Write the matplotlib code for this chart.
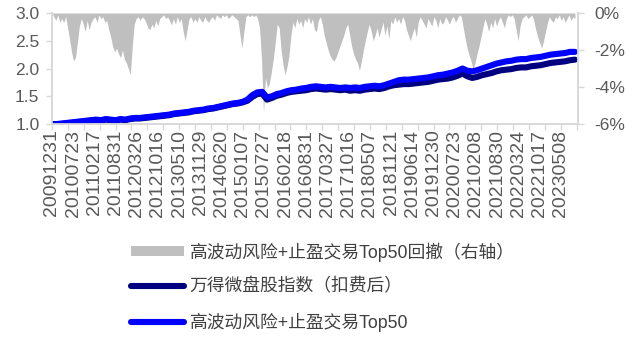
import numpy as np
import matplotlib
matplotlib.use("Agg")
import matplotlib.pyplot as plt
from matplotlib.patches import Patch
from matplotlib.lines import Line2D
from matplotlib.ticker import FuncFormatter, FixedLocator

plt.rcParams['font.family'] = ['Liberation Sans', 'Noto Sans CJK SC', 'DejaVu Sans']

# x-axis date labels (one every 140 trading days)
date_labels = ["20091231", "20100723", "20110217", "20110831", "20120326",
               "20121016", "20130510", "20131129", "20140620", "20150107",
               "20150727", "20160218", "20160831", "20170327", "20171016",
               "20180507", "20181121", "20190614", "20191230", "20200723",
               "20210208", "20210830", "20220324", "20221017", "20230508"]
label_step = 140
n_days = 3455          # trading days covered by the series

# Net value of the strategy (Top50) and of the micro-cap index
top50 = [1.00, 1.00, 1.01, 1.02, 1.03, 1.04, 1.05, 1.06, 1.07, 1.08,
         1.07, 1.09, 1.08, 1.07, 1.09, 1.08, 1.10, 1.11, 1.11, 1.12,
         1.13, 1.14, 1.15, 1.16, 1.17, 1.19, 1.20, 1.21, 1.22, 1.24,
         1.25, 1.26, 1.28, 1.29, 1.31, 1.33, 1.35, 1.37, 1.38, 1.40,
         1.44, 1.52, 1.57, 1.58, 1.48, 1.50, 1.54, 1.56, 1.59, 1.61,
         1.62, 1.64, 1.65, 1.67, 1.68, 1.67, 1.66, 1.67, 1.66, 1.65,
         1.66, 1.65, 1.66, 1.65, 1.67, 1.68, 1.69, 1.68, 1.70, 1.73,
         1.76, 1.79, 1.80, 1.80, 1.81, 1.82, 1.83, 1.84, 1.86, 1.88,
         1.89, 1.91, 1.93, 1.96, 2.00, 1.96, 1.95, 1.97, 2.00, 2.03,
         2.06, 2.09, 2.11, 2.13, 2.14, 2.16, 2.17, 2.17, 2.19, 2.20,
         2.21, 2.23, 2.25, 2.26, 2.27, 2.28, 2.30, 2.30]

microcap = [1.00, 1.00, 1.00, 1.01, 1.02, 1.03, 1.04, 1.05, 1.06, 1.07,
            1.06, 1.08, 1.07, 1.06, 1.08, 1.07, 1.09, 1.10, 1.10, 1.11,
            1.12, 1.13, 1.14, 1.15, 1.16, 1.18, 1.19, 1.20, 1.21, 1.23,
            1.24, 1.25, 1.27, 1.28, 1.30, 1.32, 1.34, 1.36, 1.37, 1.39,
            1.42, 1.49, 1.54, 1.55, 1.44, 1.47, 1.51, 1.53, 1.56, 1.58,
            1.59, 1.60, 1.61, 1.63, 1.64, 1.63, 1.62, 1.63, 1.62, 1.61,
            1.62, 1.60, 1.61, 1.60, 1.62, 1.63, 1.64, 1.63, 1.65, 1.68,
            1.70, 1.71, 1.72, 1.72, 1.73, 1.74, 1.75, 1.76, 1.78, 1.80,
            1.81, 1.82, 1.84, 1.87, 1.91, 1.86, 1.83, 1.85, 1.88, 1.90,
            1.92, 1.95, 1.97, 1.98, 1.99, 2.01, 2.02, 2.02, 2.04, 2.05,
            2.06, 2.08, 2.10, 2.11, 2.12, 2.13, 2.15, 2.16]

# Drawdown of the strategy, in percent (right axis)
drawdown = [0, -0.2, -0.4, -0.1, -0.5, -0.3, -0.5, -0.2, -0.8, -1.4,
            -2.1, -2.6, -2.4, -1.6, -0.7, -0.3, -0.6, -1.0, -0.4, -0.9,
            -0.5, -0.3, -0.2, -0.5, -0.1, -0.3, -0.2, -0.5, -0.4, -0.9,
            -1.3, -1.8, -2.1, -1.9, -2.2, -2.4, -2.0, -2.5, -2.7, -3.0,
            -3.35, -1.8, -0.6, -0.3, -0.2, -0.4, -0.2, -0.3, -0.5, -0.8,
            -0.9, -0.6, -0.8, -0.4, -0.7, -0.3, -0.2, -0.1, -0.3, -0.2,
            -0.4, -0.65, -0.3, -0.6, -0.2, -0.5, -0.3, -1.0, -1.5, -0.9,
            -0.3, -0.2, -0.5, -0.3, -0.5, -0.2, -0.4, -0.5, -0.2, -0.4,
            -0.5, -0.3, -0.2, -0.4, -0.1, -0.2, -0.3, -0.1, -0.2, -0.1,
            -0.3, -0.2, -0.1, -0.2, -0.3, -0.4, -1.2, -1.9, -1.0, -0.2,
            -0.1, -0.2, -0.1, -0.2, -0.1, -0.3, -0.8, -2.5, -5.4, -3.5,
            -4.05, -3.8, -3.2, -2.5, -1.6, -0.6, -0.8, -2.0, -2.8, -3.35,
            -2.9, -2.3, -1.2, -0.5, -0.8, -0.3, -0.6, -0.4, -0.8, -0.3,
            -0.5, -0.2, -0.6, -0.3, -0.9, -1.0, -0.4, -0.2, -0.6, -1.2,
            -1.6, -2.0, -2.3, -2.5, -2.6, -2.4, -2.1, -1.8, -1.5, -1.2,
            -0.8, -0.6, -1.2, -1.8, -2.2, -2.5, -2.7, -3.1, -2.6, -2.0,
            -1.5, -1.0, -0.6, -1.0, -1.5, -1.2, -0.8, -1.3, -0.9, -0.5,
            -1.2, -0.7, -1.4, -0.4, -0.6, -0.2, -0.5, -0.3, -0.6, -0.2,
            -0.4, -0.9, -1.2, -1.5, -1.1, -0.8, -1.3, -0.5, -0.2, -0.4,
            -0.6, -0.8, -0.3, -0.5, -0.7, -0.2, -0.4, -0.8, -0.3, -0.6,
            -0.5, -0.2, -0.4, -0.6, -0.3, -0.2, -0.5, -0.3, -0.1, -0.2,
            -0.8, -1.4, -1.9, -2.3, -2.6, -3.0, -2.7, -2.2, -1.8, -1.3,
            -0.8, -0.3, -0.6, -1.0, -0.5, -0.8, -0.3, -0.7, -0.4, -0.2,
            -0.5, -0.8, -0.3, -0.1, -0.2, -0.1, -0.3, -0.9, -1.5, -0.7,
            -0.3, -0.2, -0.1, -0.3, -0.2, -0.1, -0.4, -0.9, -1.3, -1.6,
            -1.9, -1.5, -1.0, -0.5, -0.2, -0.4, -0.5, -0.2, -0.3, -0.1,
            -0.4, -0.2, -0.5, -0.3, -0.1, -0.4, -0.2, -0.3]

names = ["高波动风险+止盈交易Top50回撤（右轴）",
         "万得微盘股指数（扣费后）",
         "高波动风险+止盈交易Top50"]

GREY = "#BFBFBF"
NAVY = "#000080"
BLUE = "#0000FF"
AXIS = "#D9D9D9"
TXT = "#595959"
LW = 4.4

x_line = np.linspace(0, n_days - 1, len(top50))
x_dd = np.linspace(0, n_days - 1, len(drawdown))

fig = plt.figure(figsize=(6.26, 3.38), dpi=100)
ax = fig.add_axes([0.083, 0.633, 0.84, 0.3285])
ax2 = ax.twinx()

# drawdown area on the secondary axis, behind the lines
ax2.fill_between(x_dd, np.array(drawdown) / 100.0, 0, color=GREY, lw=0)
ax2.set_ylim(-0.06, 0)
ax2.set_yticks([-0.06, -0.04, -0.02, 0])
ax2.yaxis.set_major_formatter(FuncFormatter(lambda v, p: f"{v*100:.0f}%"))

ax.plot(x_line, microcap, color=NAVY, lw=LW, solid_capstyle='round')
ax.plot(x_line, top50, color=BLUE, lw=LW, solid_capstyle='round')
ax.set_zorder(ax2.get_zorder() + 1)
ax.patch.set_visible(False)

ax.set_ylim(1.0, 3.0)
ax.set_yticks([1.0, 1.5, 2.0, 2.5, 3.0])
ax.yaxis.set_major_formatter(FuncFormatter(lambda v, p: f"{v:.1f}"))
ax.set_xlim(0, n_days + 18)

# tick marks every 105 days, labels every 140 days
ax.xaxis.remove_overlapping_locs = False
ax.xaxis.set_major_locator(FixedLocator(np.arange(0, n_days + 18, 105)))
ax.xaxis.set_minor_locator(FixedLocator(np.arange(len(date_labels)) * label_step))
ax.xaxis.set_major_formatter(FuncFormatter(lambda v, p: ""))
ax.set_xticklabels(date_labels, minor=True, rotation=90)
ax.tick_params(axis='x', which='major', length=4, width=1, color=AXIS, direction='out')
ax.tick_params(axis='x', which='minor', length=0, pad=4, labelsize=14, labelcolor=TXT)

for a in (ax, ax2):
    for side in ('left', 'right', 'bottom'):
        a.spines[side].set_color(AXIS)
        a.spines[side].set_linewidth(1.3)
    a.spines['top'].set_visible(False)
ax.tick_params(axis='y', length=4, width=1, color=AXIS, labelsize=12.5, labelcolor=TXT, pad=5)
ax2.tick_params(axis='y', length=4, width=1, color=AXIS, labelsize=12.5, labelcolor=TXT, pad=8)

handles = [Patch(facecolor=GREY, edgecolor='none'),
           Line2D([], [], color=NAVY, lw=LW, solid_capstyle='round'),
           Line2D([], [], color=BLUE, lw=LW, solid_capstyle='round')]
fig.legend(handles, names, loc='upper left', bbox_to_anchor=(0.195, 0.31),
           frameon=False, fontsize=12.8, handlelength=3.0, handleheight=0.45,
           handletextpad=0.3, labelspacing=0.95, borderpad=0, labelcolor="#404040")

fig.savefig("out.png", dpi=100)
